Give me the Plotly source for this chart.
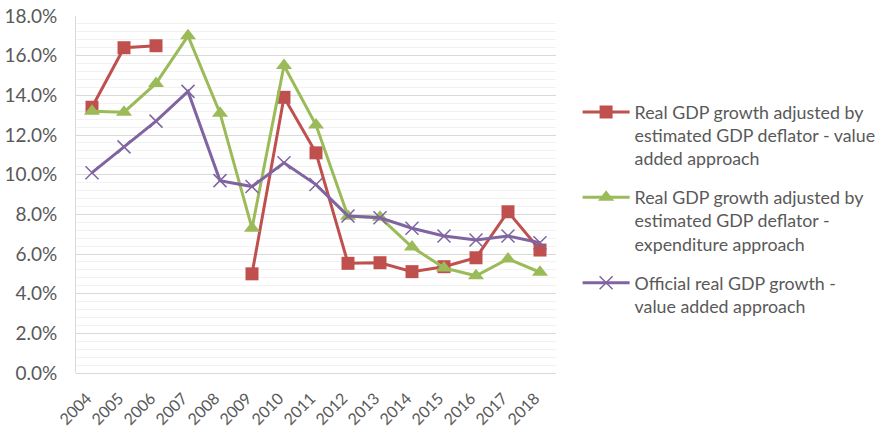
import plotly.graph_objects as go

years = [str(y) for y in range(2004, 2019)]
value_added_est = [13.4, 16.4, 16.5, None, None, 5.0, 13.9, 11.1, 5.53, 5.56, 5.11, 5.36, 5.81, 8.13, 6.2]
expenditure_est = [13.2, 13.15, 14.6, 17.0, 13.1, 7.3, 15.5, 12.5, 7.9, 7.85, 6.35, 5.3, 4.9, 5.75, 5.08]
official = [10.1, 11.4, 12.7, 14.2, 9.7, 9.4, 10.6, 9.5, 7.92, 7.83, 7.3, 6.91, 6.71, 6.91, 6.57]

names = [
    "Real GDP growth adjusted by<br>estimated GDP deflator - value<br>added approach",
    "Real GDP growth adjusted by<br>estimated GDP deflator -<br>expenditure approach",
    "Official real GDP growth -<br>value added approach",
]
colors = ["#C0504D", "#9BBB59", "#8064A2"]
FONT = "Lato"

fig = go.Figure()
fig.add_trace(go.Scatter(x=years, y=value_added_est, name=names[0], mode="lines+markers",
                         line=dict(color=colors[0], width=3), connectgaps=False, legendgroup="a",
                         marker=dict(symbol="square", size=13, color=colors[0])))
fig.add_trace(go.Scatter(x=years, y=expenditure_est, name=names[1], mode="lines+markers",
                         line=dict(color=colors[1], width=3), legendgroup="b",
                         marker=dict(symbol="triangle-up", size=14, color=colors[1])))
fig.add_trace(go.Scatter(x=years, y=official, name=names[2], mode="lines+markers",
                         line=dict(color=colors[2], width=3), legendgroup="c",
                         marker=dict(symbol="x-thin", size=13, color=colors[2],
                                     line=dict(color=colors[2], width=1.5))))

fig.update_layout(
    width=880, height=432,
    margin=dict(l=76, r=324, t=16, b=59, autoexpand=False),
    paper_bgcolor="white", plot_bgcolor="white",
    font=dict(family=FONT, color="#595959", size=16),
    showlegend=True,
    legend=dict(x=1.045, y=0.782, xanchor="left", yanchor="top", valign="top",
                font=dict(family=FONT, size=17.8, color="#595959"),
                tracegroupgap=13, itemwidth=47, bgcolor="rgba(0,0,0,0)"),
)
fig.update_xaxes(type="category", range=[-0.5, 14.5], showgrid=False, tickangle=-45, ticks="",
                 tickfont=dict(size=16, color="#595959"), showline=False, automargin=False,
                 ticklabelshift=-5, ticklabelstandoff=12)
fig.update_yaxes(range=[0, 18], dtick=2, tickformat=".1f", ticksuffix="%",
                 showgrid=True, gridcolor="#D9D9D9", gridwidth=1,
                 minor=dict(dtick=0.4, showgrid=True, gridcolor="#F2F2F2", gridwidth=1),
                 zeroline=True, zerolinecolor="#D9D9D9", zerolinewidth=1,
                 showline=True, linecolor="#D9D9D9", linewidth=1, automargin=False,
                 ticklabelstandoff=14,
                 tickfont=dict(size=19, color="#595959"), ticks="")

fig.write_html("out.html")
